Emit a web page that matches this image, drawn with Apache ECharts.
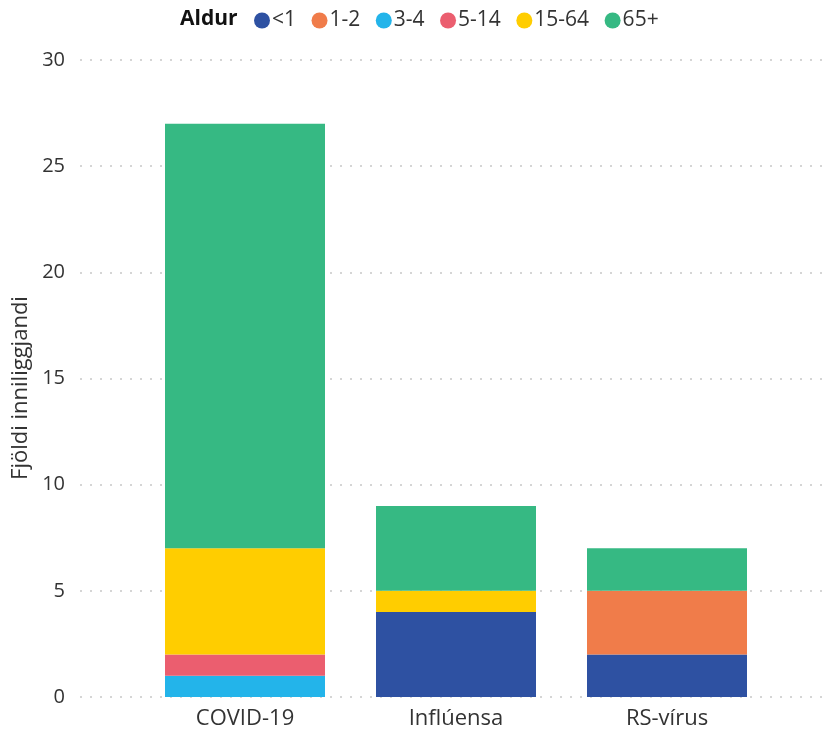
<!DOCTYPE html>
<html>
<head>
<meta charset="utf-8">
<script src="https://cdn.jsdelivr.net/npm/echarts@6/dist/echarts.min.js"></script>
<style>
html, body { margin: 0; padding: 0; background: #fff; }
#chart { width: 830px; height: 732px; }
</style>
</head>
<body>
<div id="chart"></div>
<script>
// gögn
const categories = ['COVID-19', 'Inflúensa', 'RS-vírus'];
const ageGroups = ['<1', '1-2', '3-4', '5-14', '15-64', '65+'];
const lt1 = [0, 4, 2];
const age1to2 = [0, 0, 3];
const age3to4 = [1, 0, 0];
const age5to14 = [1, 0, 0];
const age15to64 = [5, 1, 0];
const age65plus = [20, 4, 2];
const yTicks = [0, 5, 10, 15, 20, 25, 30];

const seriesValues = [lt1, age1to2, age3to4, age5to14, age15to64, age65plus];
const colors = ['#2E51A2', '#F07C4A', '#23B4EA', '#EB5E6F', '#FFCD00', '#36B983'];

const chart = echarts.init(document.getElementById('chart'));
const font = '"Open Sans", "Noto Sans", sans-serif';

const option = {
    animation: false,
    textStyle: { fontFamily: font },
    title: {
        text: 'Aldur',
        left: 175,
        top: 4,
        textStyle: { fontSize: 21, fontWeight: 'bold', color: '#111', fontFamily: font }
    },
    legend: {
        left: 249,
        top: 5,
        icon: 'circle',
        itemWidth: 16,
        itemHeight: 16,
        itemGap: 15.5,
        textStyle: { fontSize: 21, color: '#333', padding: [0, 0, 0, -3] },
        data: ageGroups
    },
    // ástitill y-áss
    graphic: [
        {
            type: 'text',
            x: 21,
            y: 388,
            rotation: Math.PI / 2,
            style: {
                text: 'Fjöldi inniliggjandi',
                font: '22px ' + font,
                fill: '#333',
                textAlign: 'center',
                textVerticalAlign: 'middle'
            }
        }
    ],
    grid: [
        // bakgrunnur með y-ás og punktalínum
        { left: 80, right: 0, top: 60, bottom: 35 },
        // súlurnar
        { left: 139.5, right: 57.5, top: 60, bottom: 35 }
    ],
    xAxis: [
        { gridIndex: 0, type: 'value', show: false, min: 0, max: 1 },
        {
            gridIndex: 1,
            type: 'category',
            data: categories,
            axisLine: { show: false },
            axisTick: { show: false },
            axisLabel: { fontSize: 22, color: '#333', margin: 11 }
        }
    ],
    yAxis: [
        {
            gridIndex: 0,
            type: 'value',
            min: 0,
            max: 30,
            interval: 5,
            axisLine: { show: false },
            axisTick: { show: false },
            axisLabel: {
                fontSize: 20,
                color: '#333',
                margin: 15,
                formatter: (v) => (yTicks.includes(v) ? String(v) : '')
            },
            splitLine: { lineStyle: { type: [2, 8], color: '#c8c8c8', width: 1.5 } }
        },
        { gridIndex: 1, type: 'value', min: 0, max: 30, show: false }
    ],
    series: ageGroups.map((name, i) => ({
        name: name,
        type: 'bar',
        stack: 'total',
        xAxisIndex: 1,
        yAxisIndex: 1,
        barWidth: 160,
        data: seriesValues[i],
        itemStyle: { color: colors[i] }
    }))
};
chart.setOption(option);
</script>
</body>
</html>
